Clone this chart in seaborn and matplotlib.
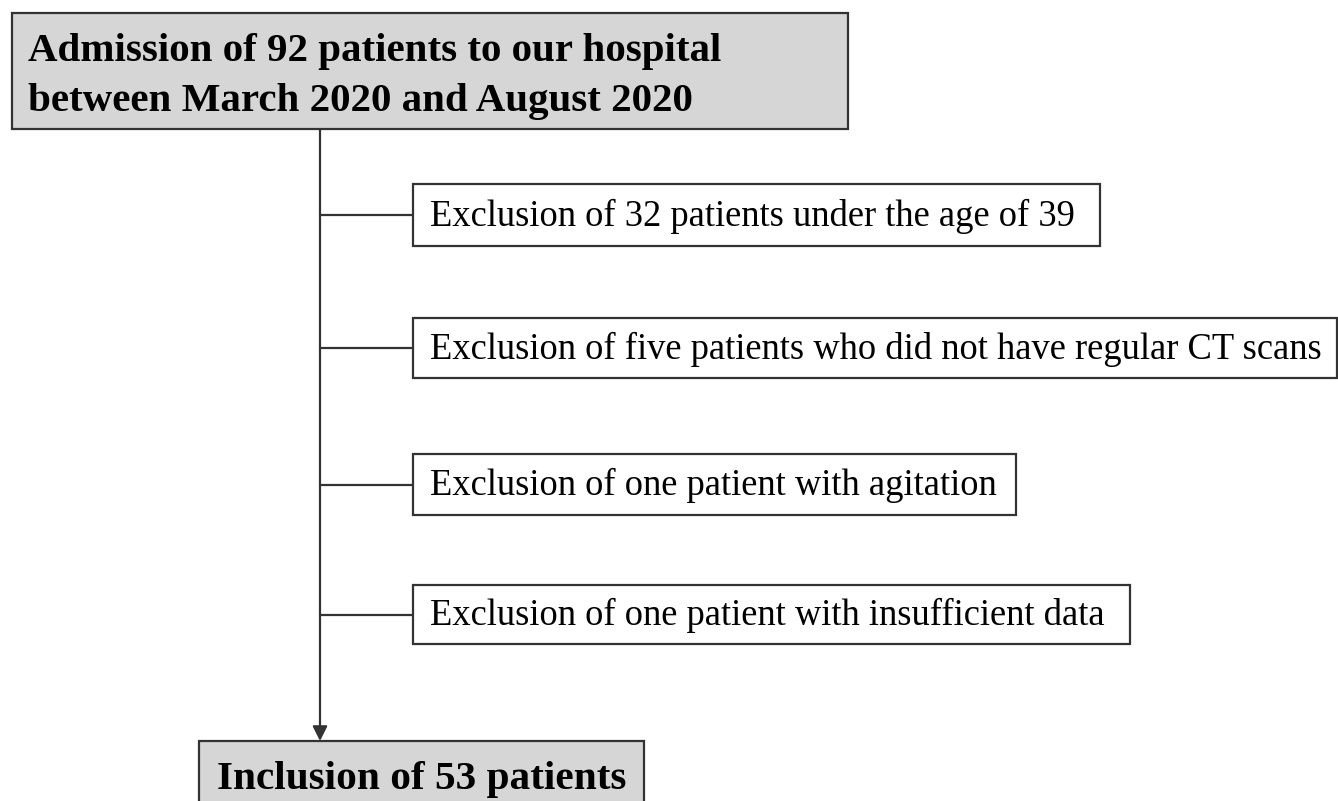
import matplotlib
matplotlib.use("Agg")
import matplotlib.pyplot as plt
import seaborn as sns
from matplotlib.patches import Rectangle

# flowchart text
top_lines = ["Admission of 92 patients to our hospital",
             "between March 2020 and August 2020"]
exclusions = ["Exclusion of 32 patients under the age of 39",
              "Exclusion of five patients who did not have regular CT scans",
              "Exclusion of one patient with agitation",
              "Exclusion of one patient with insufficient data"]
final_label = "Inclusion of 53 patients"

# layout in pixels (x0, y0, x1, y1), y downwards
top_box = (12, 13, 848, 129)
excl_boxes = [(413, 184, 1100, 246),
              (413, 318, 1337, 378),
              (413, 454, 1016, 515),
              (413, 585, 1130, 644)]
final_box = (199, 741, 644, 820)
spine_x = 320

sns.set_theme(style="white")
plt.rcParams['font.family'] = ['Liberation Serif', 'DejaVu Serif']

fig = plt.figure(figsize=(13.38, 8.01), dpi=100)
ax = fig.add_axes([0, 0, 1, 1])
ax.set_xlim(0, 1338)
ax.set_ylim(801, 0)
ax.axis('off')

gray = '#d6d6d6'
edge = '#333333'

def box(b, fc):
    x0, y0, x1, y1 = b
    ax.add_patch(Rectangle((x0, y0), x1 - x0, y1 - y0, facecolor=fc,
                           edgecolor=edge, linewidth=1.6, zorder=2))

box(top_box, gray)
for i, line in enumerate(top_lines):
    ax.text(28, 51 + i * 50, line, fontsize=29.5, fontweight='bold',
            va='center', ha='left', color='black', zorder=3)

# main vertical line with arrow
ax.annotate('', xy=(spine_x, final_box[1]), xytext=(spine_x, top_box[3]),
            arrowprops=dict(arrowstyle='-|>', color=edge, lw=1.6,
                            mutation_scale=22, shrinkA=0, shrinkB=0),
            zorder=1)

for b, label in zip(excl_boxes, exclusions):
    x0, y0, x1, y1 = b
    yc = (y0 + y1) / 2
    ax.plot([spine_x, x0], [yc, yc], color=edge, lw=1.6, zorder=1)
    box(b, 'white')
    ax.text(430, yc + 1, label, fontsize=26.3, va='center', ha='left',
            color='black', zorder=3)

box(final_box, gray)
ax.text(217, 779, final_label, fontsize=29.7, fontweight='bold',
        va='center', ha='left', color='black', zorder=3)

fig.savefig('out.png', dpi=100)
